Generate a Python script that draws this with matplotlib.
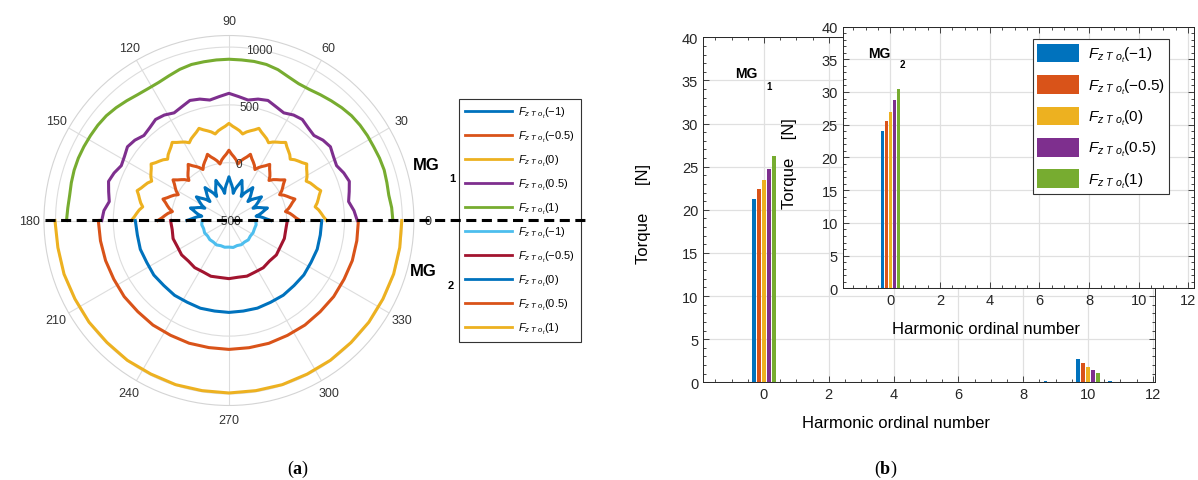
import numpy as np
import matplotlib.pyplot as plt
from matplotlib.lines import Line2D
from matplotlib.ticker import MultipleLocator

plt.rcParams['font.family'] = ['Liberation Sans', 'DejaVu Sans']
plt.rcParams['mathtext.fontset'] = 'custom'
plt.rcParams['mathtext.rm'] = 'Liberation Sans'
plt.rcParams['mathtext.it'] = 'Liberation Sans:italic'
plt.rcParams['mathtext.bf'] = 'Liberation Serif:bold'

# MATLAB default line colours
c_blue, c_orange, c_yellow = '#0072BD', '#D95319', '#EDB120'
c_purple, c_green = '#7E2F8E', '#77AC30'
c_lblue, c_dred = '#4DBEEE', '#A2142F'

load_cases = ['-1', '-0.5', '0', '0.5', '1']

# ---- polar force curves (N) ----
theta_fine = np.arange(0, 180.1, 2.25)     # MG1, strongly rippled curves
theta_mg1 = np.arange(0, 180.1, 4.5)       # MG1, smoother curves
theta_mg2 = np.arange(180, 360.1, 9.0)     # MG2 (lower half)

mg1_m1 = [-137, -173, -200, -226, -262, -230, -206, -182,
          -150, -184, -208, -232, -266, -233, -209, -185,
          -152, -186, -210, -234, -268, -233, -208, -183,
          -148, -182, -207, -232, -266, -228, -200, -173,
          -135, -172, -198, -225, -262, -221, -192, -163,
          -122, -163, -192, -221, -262, -225, -198, -172,
          -135, -173, -200, -228, -266, -232, -207, -182,
          -148, -183, -208, -233, -268, -234, -210, -186,
          -152, -185, -209, -233, -266, -232, -208, -184,
          -150, -182, -206, -230, -262, -226, -200, -173,
          -137]
mg1_m05 = [115, 80, 55, 30, -5, 25, 48, 70,
           100, 69, 46, 23, -8, 23, 45, 67,
           98, 67, 44, 21, -10, 22, 45, 68,
           100, 70, 48, 25, -5, 26, 49, 71,
           102, 71, 49, 26, -5, 28, 52, 75,
           108, 75, 52, 28, -5, 26, 49, 71,
           102, 71, 49, 26, -5, 25, 48, 70,
           100, 68, 45, 22, -10, 21, 44, 67,
           98, 67, 45, 23, -8, 23, 46, 69,
           100, 70, 48, 25, -5, 30, 55, 80,
           115]
mg1_0 = [345, 319, 300, 281, 255, 278, 295, 312,
         335, 310, 292, 275, 250, 274, 291, 308,
         332, 308, 291, 274, 250, 275, 292, 310,
         335, 312, 295, 278, 255, 279, 296, 314,
         338, 315, 298, 281, 258, 282, 299, 316,
         340, 316, 299, 282, 258, 281, 298, 315,
         338, 314, 296, 279, 255, 278, 295, 312,
         335, 310, 292, 275, 250, 274, 291, 308,
         332, 308, 291, 274, 250, 275, 292, 310,
         335, 312, 295, 278, 255, 281, 300, 319,
         345]
mg1_p05 = [610, 585, 548, 570, 595, 575, 545, 560, 585, 570, 540, 555, 580,
           570, 545, 565, 592, 580, 555, 575, 600, 575, 555, 580, 592, 565,
           545, 570, 580, 555, 540, 570, 585, 560, 545, 575, 595, 570, 548,
           585, 600]
mg1_p1 = [918, 912, 900, 905, 912, 910, 905, 905, 902, 895, 880, 862, 845,
          830, 828, 845, 872, 888, 893, 893, 895, 893, 890, 888, 875, 855,
          840, 838, 845, 862, 880, 895, 902, 905, 908, 910, 908, 902, 895,
          898, 905]

mg2_m1 = [-268, -262, -270, -264, -272, -266, -270, -263, -271, -266, -270,
          -264, -272, -265, -270, -263, -271, -266, -268, -262, -268]
mg2_m05 = [5, -3, 8, 0, 6, -4, 4, -2, 7, -1, 3, -3, 6, 0, 5, -4, 7, -1, 4,
           -2, 5]
mg2_0 = [310, 302, 306, 298, 303, 296, 300, 294, 298, 293, 295, 293, 297,
         294, 299, 296, 301, 297, 303, 300, 303]
mg2_p05 = [630, 625, 622, 618, 620, 615, 618, 614, 616, 613, 615, 614, 617,
           615, 618, 616, 620, 618, 622, 620, 620]
mg2_p1 = [1005, 998, 1000, 995, 996, 992, 995, 990, 993, 990, 992, 990, 993,
          991, 994, 993, 996, 995, 998, 996, 995]

r_ticks = [-500, 0, 500, 1000]
theta_ticks = list(range(0, 360, 30))

# ---- torque harmonics (N) ----
harm_mg1 = [0, 9, 10, 11]
tq1_m1 = [21.3, 0.12, 2.70, 0.10]
tq1_m05 = [22.4, 0.08, 2.24, 0.08]
tq1_0 = [23.5, 0.05, 1.77, 0.05]
tq1_p05 = [24.7, 0.03, 1.46, 0.03]
tq1_p1 = [26.2, 0.02, 1.12, 0.02]

harm_mg2 = [0]
tq2_m1 = [24.0]
tq2_m05 = [25.5]
tq2_0 = [27.0]
tq2_p05 = [28.7]
tq2_p1 = [30.5]


def flabel(case):
    return r'$F_{z\ T\ o_t}\mathit{(%s)}$' % case


fig = plt.figure(figsize=(11.98, 4.81), dpi=100)

# ================= (a) polar plot =================
axp = fig.add_axes([0.0367, 0.1549, 0.3088, 0.7692], projection='polar')
top_series = [(theta_fine, mg1_m1), (theta_fine, mg1_m05), (theta_fine, mg1_0),
              (theta_mg1, mg1_p05), (theta_mg1, mg1_p1)]
top_cols = [c_blue, c_orange, c_yellow, c_purple, c_green]
bot_series = [mg2_m1, mg2_m05, mg2_0, mg2_p05, mg2_p1]
bot_cols = [c_lblue, c_dred, c_blue, c_orange, c_yellow]

handles = []
for (th, vals), col, case in zip(top_series, top_cols, load_cases):
    h, = axp.plot(np.deg2rad(th), vals, color=col, lw=2.2,
                  label=flabel(case))
    handles.append(h)
for vals, col, case in zip(bot_series, bot_cols, load_cases):
    h, = axp.plot(np.deg2rad(theta_mg2), vals, color=col, lw=2.2,
                  label=flabel(case))
    handles.append(h)

axp.set_rlim(-500, 1100)
axp.set_rticks(r_ticks)
axp.set_yticklabels([])
axp.set_thetagrids(theta_ticks, labels=[str(t) for t in theta_ticks])
axp.grid(color='#dddddd', lw=0.8)
axp.spines['polar'].set_color('#d4d4d4')
axp.spines['polar'].set_linewidth(0.8)
axp.tick_params(axis='x', labelsize=9, colors='#333333', pad=0)
for r in r_ticks:
    axp.text(np.deg2rad(80), r, str(r), fontsize=8.5, color='#333333',
             ha='center', va='center')

leg = fig.legend(handles=handles, loc='upper left',
                 bbox_to_anchor=(0.3834, 0.7921), fontsize=8,
                 handlelength=4.2, handletextpad=0.5, labelspacing=0.8,
                 borderpad=0.55, borderaxespad=0, fancybox=False,
                 edgecolor='#333333', framealpha=1)
leg.get_frame().set_linewidth(0.8)
for ln in leg.get_lines():
    ln.set_linewidth(2.0)

# MG1 / MG2 divider
fig.add_artist(Line2D([45 / 1198, 590 / 1198], [1 - 221 / 481] * 2,
                      transform=fig.transFigure, color='black', lw=2.2,
                      dashes=(3.3, 1.8), zorder=10))

fig.text(426 / 1198, 1 - 166 / 481, 'MG', fontsize=12, fontweight='bold',
         ha='center', va='center')
fig.text(452 / 1198, 1 - 179 / 481, '1', fontsize=8, fontweight='bold',
         ha='center', va='center')
fig.text(423 / 1198, 1 - 272 / 481, 'MG', fontsize=12, fontweight='bold',
         ha='center', va='center')
fig.text(451 / 1198, 1 - 286 / 481, '2', fontsize=8, fontweight='bold',
         ha='center', va='center')

# ================= (b) torque harmonics =================
bar_cols = [c_blue, c_orange, c_yellow, c_purple, c_green]
bar_w = 0.12
bar_step = 0.154


def style_axes(ax, xlim):
    ax.set_xlim(*xlim)
    ax.set_ylim(0, 40)
    ax.set_xticks(range(0, 13, 2))
    ax.set_yticks(range(0, 41, 5))
    ax.xaxis.set_minor_locator(MultipleLocator(0.5))
    ax.yaxis.set_minor_locator(MultipleLocator(1))
    ax.tick_params(which='both', direction='in', top=True, right=True,
                   colors='#262626', labelsize=10.5, width=0.6)
    ax.tick_params(which='major', length=4.5)
    ax.tick_params(which='minor', length=2.5)
    ax.grid(True, color='#e0e0e0', lw=0.9)
    ax.set_axisbelow(True)
    for sp in ax.spines.values():
        sp.set_color('#262626')
        sp.set_linewidth(0.7)


axb = fig.add_axes([0.5868, 0.2031, 0.3773, 0.7173])
for i, (vals, col) in enumerate(zip([tq1_m1, tq1_m05, tq1_0, tq1_p05, tq1_p1],
                                    bar_cols)):
    axb.bar(np.array(harm_mg1) + (i - 2) * bar_step, vals, width=bar_w,
            color=col)
style_axes(axb, (-1.88, 12.07))
axb.set_xlabel('Harmonic ordinal number', fontsize=12)
axb.xaxis.set_label_coords(0.427, -0.095)
axb.set_ylabel('Torque      [N]', fontsize=12)
axb.yaxis.set_label_coords(-0.115, 0.49)
axb.text(-0.55, 35.9, 'MG', fontsize=10, fontweight='bold', ha='center',
         va='center')
axb.text(0.15, 34.4, '1', fontsize=7, fontweight='bold', ha='center',
         va='center')

axi = fig.add_axes([0.7035, 0.3985, 0.2931, 0.5443])
for i, (vals, col, case) in enumerate(zip([tq2_m1, tq2_m05, tq2_0, tq2_p05,
                                            tq2_p1], bar_cols, load_cases)):
    axi.bar(np.array(harm_mg2) + (i - 2) * bar_step, vals, width=bar_w,
            color=col, label=flabel(case))
style_axes(axi, (-1.92, 12.23))
axi.set_xlabel('Harmonic ordinal number', fontsize=12)
axi.xaxis.set_label_coords(0.407, -0.125)
axi.set_ylabel('Torque    [N]', fontsize=12)
axi.yaxis.set_label_coords(-0.13, 0.48)
axi.text(-0.43, 36.0, 'MG', fontsize=10, fontweight='bold', ha='center',
         va='center')
axi.text(0.5, 34.2, '2', fontsize=7, fontweight='bold', ha='center',
         va='center')
legi = axi.legend(loc='upper left', bbox_to_anchor=(0.541, 0.952),
                  fontsize=11, handlelength=2.75, handleheight=1.5,
                  handletextpad=0.55, labelspacing=0.72, borderpad=0.3,
                  borderaxespad=0, fancybox=False, edgecolor='#333333',
                  framealpha=1)
legi.get_frame().set_linewidth(0.8)

# panel labels
fig.text(298 / 1198, 1 - 469 / 481, r'($\mathbf{a}$)', fontsize=13,
         family='Liberation Serif', ha='center', va='center')
fig.text(886 / 1198, 1 - 469 / 481, r'($\mathbf{b}$)', fontsize=13,
         family='Liberation Serif', ha='center', va='center')

fig.savefig('out.png', dpi=100)
